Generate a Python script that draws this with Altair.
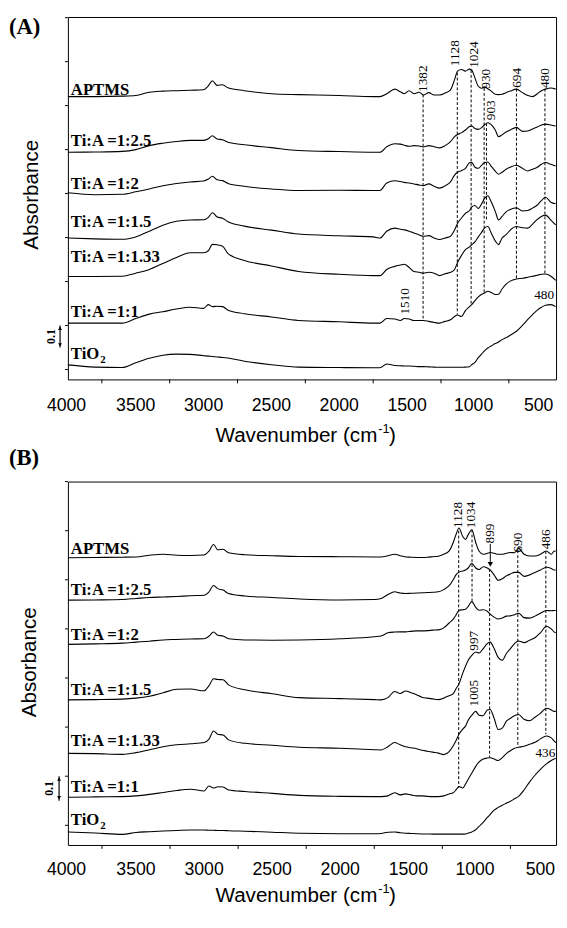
import altair as alt
import pandas as pd

# ---------------- data ----------------
SERIES = ["APTMS", "Ti:A =1:2.5", "Ti:A =1:2", "Ti:A =1:1.5", "Ti:A =1:1.33", "Ti:A =1:1", "TiO2"]
LABELS = ["APTMS", "Ti:A =1:2.5", "Ti:A =1:2", "Ti:A =1:1.5", "Ti:A =1:1.33", "Ti:A =1:1", "TiO"]

WN_A = [4000, 3800, 3600, 3500, 3400, 3300, 3200, 3100, 3000, 2965,
        2935, 2900, 2860, 2820, 2700, 2500, 2300, 2000, 1750, 1700,
        1650, 1590, 1550, 1520, 1485, 1450, 1410, 1380, 1340, 1300,
        1260, 1220, 1180, 1150, 1128, 1100, 1070, 1040, 1024, 1000,
        975, 950, 930, 905, 880, 850, 826, 800, 770, 740,
        694, 650, 610, 575, 540, 510, 480, 440, 405]

APTMS_A = [1.241, 1.241, 1.243, 1.246, 1.261, 1.266, 1.268, 1.270, 1.272, 1.290,
           1.313, 1.292, 1.295, 1.281, 1.268, 1.254, 1.250, 1.246, 1.241, 1.241,
           1.254, 1.275, 1.263, 1.254, 1.268, 1.254, 1.261, 1.248, 1.259, 1.248,
           1.248, 1.257, 1.272, 1.318, 1.357, 1.364, 1.357, 1.366, 1.362, 1.326,
           1.288, 1.279, 1.286, 1.277, 1.266, 1.252, 1.250, 1.252, 1.259, 1.266,
           1.275, 1.259, 1.246, 1.241, 1.254, 1.268, 1.275, 1.280, 1.275]
TI25_A = [0.988, 0.989, 0.992, 1.000, 1.018, 1.029, 1.037, 1.042, 1.042, 1.049,
          1.063, 1.048, 1.045, 1.033, 1.022, 1.009, 0.996, 0.991, 0.988, 0.988,
          1.013, 1.027, 1.025, 1.020, 1.015, 1.018, 1.016, 1.012, 1.018, 1.013,
          1.008, 1.018, 1.036, 1.059, 1.069, 1.076, 1.089, 1.105, 1.107, 1.096,
          1.092, 1.100, 1.112, 1.122, 1.114, 1.089, 1.059, 1.067, 1.080, 1.089,
          1.101, 1.083, 1.085, 1.094, 1.103, 1.112, 1.116, 1.112, 1.107]
TI2_A = [0.804, 0.795, 0.797, 0.808, 0.821, 0.836, 0.846, 0.853, 0.857, 0.866,
         0.879, 0.863, 0.859, 0.846, 0.833, 0.821, 0.814, 0.815, 0.814, 0.814,
         0.848, 0.858, 0.855, 0.851, 0.848, 0.844, 0.839, 0.836, 0.844, 0.833,
         0.825, 0.835, 0.853, 0.884, 0.897, 0.904, 0.915, 0.940, 0.942, 0.920,
         0.915, 0.929, 0.940, 0.944, 0.924, 0.902, 0.888, 0.897, 0.911, 0.920,
         0.929, 0.915, 0.903, 0.911, 0.920, 0.933, 0.941, 0.933, 0.925]
TI15_A = [0.598, 0.594, 0.592, 0.603, 0.629, 0.656, 0.674, 0.680, 0.681, 0.692,
          0.713, 0.694, 0.688, 0.672, 0.652, 0.634, 0.616, 0.608, 0.603, 0.598,
          0.629, 0.643, 0.638, 0.635, 0.629, 0.621, 0.612, 0.606, 0.609, 0.598,
          0.591, 0.598, 0.606, 0.634, 0.665, 0.688, 0.710, 0.723, 0.739, 0.746,
          0.732, 0.754, 0.777, 0.790, 0.763, 0.719, 0.680, 0.696, 0.717, 0.728,
          0.735, 0.721, 0.723, 0.734, 0.748, 0.768, 0.783, 0.761, 0.754]
TI133_A = [0.423, 0.423, 0.424, 0.438, 0.455, 0.482, 0.509, 0.531, 0.531, 0.540,
           0.569, 0.567, 0.561, 0.527, 0.496, 0.471, 0.446, 0.433, 0.427, 0.427,
           0.455, 0.469, 0.475, 0.479, 0.464, 0.446, 0.442, 0.438, 0.442, 0.438,
           0.427, 0.435, 0.442, 0.455, 0.487, 0.518, 0.545, 0.558, 0.567, 0.580,
           0.603, 0.625, 0.643, 0.650, 0.621, 0.585, 0.568, 0.598, 0.613, 0.634,
           0.650, 0.645, 0.643, 0.661, 0.683, 0.696, 0.702, 0.679, 0.658]
TI1_A = [0.211, 0.211, 0.211, 0.232, 0.252, 0.263, 0.275, 0.283, 0.278, 0.295,
         0.286, 0.288, 0.286, 0.270, 0.254, 0.239, 0.223, 0.217, 0.211, 0.211,
         0.232, 0.230, 0.223, 0.232, 0.230, 0.223, 0.223, 0.223, 0.219, 0.214,
         0.211, 0.219, 0.226, 0.241, 0.248, 0.241, 0.268, 0.286, 0.295, 0.313,
         0.330, 0.342, 0.348, 0.356, 0.350, 0.341, 0.342, 0.366, 0.388, 0.402,
         0.412, 0.415, 0.420, 0.424, 0.429, 0.433, 0.434, 0.424, 0.405]
TIO2_A = [0.021, 0.011, 0.009, 0.031, 0.051, 0.065, 0.070, 0.069, 0.063, 0.061,
          0.059, 0.057, 0.055, 0.052, 0.038, 0.022, 0.011, 0.009, 0.008, 0.008,
          0.025, 0.018, 0.017, 0.016, 0.016, 0.015, 0.013, 0.013, 0.012, 0.011,
          0.010, 0.010, 0.010, 0.010, 0.010, 0.010, 0.011, 0.013, 0.022, 0.033,
          0.054, 0.071, 0.085, 0.098, 0.107, 0.118, 0.125, 0.136, 0.145, 0.156,
          0.174, 0.201, 0.228, 0.250, 0.270, 0.283, 0.292, 0.295, 0.286]

WN_B = [4000, 3800, 3600, 3500, 3400, 3300, 3200, 3100, 3000, 2965,
        2930, 2900, 2860, 2820, 2700, 2500, 2300, 2000, 1750, 1700,
        1650, 1600, 1560, 1520, 1480, 1440, 1400, 1360, 1320, 1280,
        1240, 1200, 1170, 1150, 1128, 1100, 1080, 1060, 1034, 1005,
        980, 950, 920, 899, 870, 840, 810, 780, 750, 720,
        690, 650, 610, 570, 530, 486, 450, 430, 417]

APTMS_B = [1.090, 1.091, 1.092, 1.093, 1.100, 1.104, 1.100, 1.099, 1.101, 1.116,
           1.144, 1.122, 1.124, 1.110, 1.102, 1.098, 1.095, 1.094, 1.093, 1.093,
           1.098, 1.104, 1.098, 1.093, 1.092, 1.091, 1.091, 1.092, 1.094, 1.096,
           1.104, 1.118, 1.152, 1.184, 1.211, 1.176, 1.164, 1.184, 1.204, 1.152,
           1.116, 1.104, 1.108, 1.111, 1.108, 1.104, 1.104, 1.108, 1.111, 1.110,
           1.128, 1.104, 1.097, 1.097, 1.104, 1.117, 1.104, 1.116, 1.117]
TI25_B = [0.917, 0.918, 0.920, 0.924, 0.928, 0.930, 0.932, 0.935, 0.937, 0.950,
          0.977, 0.964, 0.958, 0.944, 0.934, 0.928, 0.922, 0.918, 0.920, 0.924,
          0.940, 0.951, 0.946, 0.944, 0.945, 0.946, 0.947, 0.948, 0.949, 0.951,
          0.960, 0.976, 1.000, 1.020, 1.031, 1.036, 1.040, 1.048, 1.067, 1.048,
          1.042, 1.053, 1.048, 1.040, 1.020, 0.998, 1.004, 1.016, 1.024, 1.030,
          1.030, 1.014, 1.020, 1.030, 1.040, 1.051, 1.046, 1.040, 1.040]
TI2_B = [0.737, 0.739, 0.742, 0.746, 0.750, 0.755, 0.757, 0.759, 0.760, 0.770,
         0.787, 0.774, 0.771, 0.760, 0.755, 0.754, 0.755, 0.760, 0.768, 0.771,
         0.784, 0.787, 0.788, 0.788, 0.790, 0.792, 0.792, 0.793, 0.795, 0.796,
         0.804, 0.824, 0.840, 0.856, 0.876, 0.878, 0.880, 0.892, 0.911, 0.888,
         0.876, 0.878, 0.872, 0.860, 0.848, 0.840, 0.844, 0.852, 0.853, 0.858,
         0.864, 0.846, 0.844, 0.852, 0.864, 0.875, 0.874, 0.875, 0.875]
TI15_B = [0.511, 0.512, 0.514, 0.518, 0.526, 0.540, 0.554, 0.555, 0.548, 0.568,
          0.597, 0.594, 0.593, 0.572, 0.552, 0.536, 0.520, 0.516, 0.512, 0.511,
          0.520, 0.545, 0.537, 0.547, 0.540, 0.532, 0.522, 0.518, 0.515, 0.512,
          0.518, 0.528, 0.536, 0.556, 0.576, 0.620, 0.648, 0.672, 0.692, 0.706,
          0.702, 0.720, 0.740, 0.746, 0.720, 0.684, 0.672, 0.700, 0.720, 0.740,
          0.751, 0.744, 0.754, 0.764, 0.784, 0.811, 0.800, 0.788, 0.784]
TI133_B = [0.293, 0.292, 0.289, 0.296, 0.308, 0.320, 0.328, 0.332, 0.337, 0.350,
           0.384, 0.371, 0.368, 0.348, 0.334, 0.326, 0.318, 0.314, 0.308, 0.307,
           0.320, 0.337, 0.328, 0.320, 0.316, 0.312, 0.306, 0.302, 0.298, 0.294,
           0.288, 0.300, 0.324, 0.344, 0.371, 0.392, 0.404, 0.428, 0.448, 0.464,
           0.448, 0.446, 0.470, 0.472, 0.436, 0.390, 0.396, 0.424, 0.436, 0.446,
           0.451, 0.432, 0.426, 0.440, 0.456, 0.477, 0.470, 0.464, 0.464]
TI1_B = [0.114, 0.116, 0.117, 0.120, 0.126, 0.134, 0.142, 0.147, 0.140, 0.160,
         0.152, 0.157, 0.156, 0.144, 0.138, 0.130, 0.122, 0.118, 0.117, 0.117,
         0.120, 0.133, 0.124, 0.128, 0.124, 0.120, 0.120, 0.118, 0.117, 0.117,
         0.120, 0.128, 0.133, 0.144, 0.158, 0.152, 0.168, 0.188, 0.212, 0.240,
         0.258, 0.270, 0.274, 0.275, 0.270, 0.264, 0.276, 0.292, 0.304, 0.314,
         0.318, 0.322, 0.330, 0.338, 0.352, 0.364, 0.356, 0.344, 0.337]
TIO2_B = [-0.027, -0.031, -0.037, -0.029, -0.026, -0.023, -0.021, -0.019, -0.019, -0.020,
          -0.020, -0.021, -0.021, -0.022, -0.024, -0.028, -0.032, -0.034, -0.034, -0.033,
          -0.028, -0.027, -0.030, -0.032, -0.033, -0.034, -0.035, -0.035, -0.036, -0.036,
          -0.036, -0.036, -0.036, -0.036, -0.036, -0.036, -0.035, -0.032, -0.027, -0.018,
          -0.004, 0.012, 0.032, 0.044, 0.062, 0.073, 0.082, 0.090, 0.098, 0.108,
          0.118, 0.144, 0.176, 0.204, 0.228, 0.250, 0.264, 0.270, 0.272]

LABEL_Y_A = [1.250, 1.015, 0.821, 0.647, 0.487, 0.238, 0.048]
LABEL_Y_B = [1.104, 0.937, 0.755, 0.531, 0.324, 0.137, 0.000]

DASH_WN_A = [1382, 1130, 1028, 932, 915, 694, 484]
DASH_TOP_A = [1.250, 1.350, 1.362, 1.280, 1.120, 1.277, 1.277]
DASH_BOT_A = [0.222, 0.250, 0.300, 0.348, 0.680, 0.410, 0.437]
NOTE_A = ["1382", "1128", "1024", "930", "903", "694", "480", "1510"]
NOTE_WN_A = [1380, 1143, 1007, 920, 884, 692, 486, 1514]
NOTE_Y_A = [1.262, 1.379, 1.372, 1.277, 1.134, 1.281, 1.280, 0.250]
FLAT_A = ["480"]
FLAT_WN_A = [490]
FLAT_Y_A = [0.339]

DASH_WN_B = [1130, 1032, 903, 696, 490]
DASH_TOP_B = [1.200, 1.204, 1.044, 1.120, 1.117]
DASH_BOT_B = [0.152, 0.912, 0.277, 0.324, 0.371]
NOTE_B = ["1128", "1034", "899", "690", "486", "997", "1005"]
NOTE_WN_B = [1135, 1039, 896, 696, 488, 1016, 1020]
NOTE_Y_B = [1.211, 1.210, 1.148, 1.111, 1.124, 0.711, 0.484]
FLAT_B = ["436"]
FLAT_WN_B = [493]
FLAT_Y_B = [0.296]

X_TICKS = [4000, 3500, 3000, 2500, 2000, 1500, 1000, 500]
X_TICK_TEXT = ["4000", "3500", "3000", "2500", "2000", "1500", "1000", "500"]
X_TICK_TEXT_AT = [4010, 3500, 3000, 2500, 2000, 1500, 1010, 530]
X_MINOR = [3750, 3250, 2750, 2250, 1750, 1250, 750]
Y_MAJOR_A = [0.1, 0.3, 0.5, 0.7, 0.9, 1.1, 1.3, 1.5]
Y_MINOR_A = [0.0, 0.2, 0.4, 0.6, 0.8, 1.0, 1.2, 1.4, 1.6]
Y_MAJOR_B = [0.1, 0.3, 0.5, 0.7, 0.9, 1.1, 1.3]
Y_MINOR_B = [0.0, 0.2, 0.4, 0.6, 0.8, 1.0, 1.2, 1.4]
SCALE_BAR = [0.1, 0.2]

SANS = "Liberation Sans"
SERIF = "Liberation Serif"
W = 497


def text_px(t, x, y, font, size, weight="normal", align="left", baseline="alphabetic", angle=0):
    return alt.Chart(pd.DataFrame({"t": [t]})).mark_text(
        font=font, fontSize=size, fontWeight=weight, align=align,
        baseline=baseline, angle=angle, color="black"
    ).encode(x=alt.value(x), y=alt.value(y), text="t:N")


def panel(wn, curves, x_dom, y_dom, h, y_major, y_minor, dash, notes, flat,
          label_y, bar_x, bar_tx, ytitle_x, ytitle_y, tick_lab_dy, title_dy, extra):
    xs = alt.Scale(domain=x_dom, reverse=True, nice=False, zero=False)
    ys = alt.Scale(domain=y_dom, nice=False, zero=False)

    def X(f="wn", axis=None):
        return alt.X(f"{f}:Q", scale=xs, axis=axis)

    def Y(f="v", axis=None):
        return alt.Y(f"{f}:Q", scale=ys, axis=axis)

    rows = []
    for name, vals in zip(SERIES, curves):
        for w_, v_ in zip(wn, vals):
            rows.append({"series": name, "wn": w_, "v": v_})
    df = pd.DataFrame(rows)

    xaxis = alt.Axis(values=X_TICKS, tickSize=8, tickColor="black", tickWidth=1,
                     domainColor="black", domainWidth=1, labels=False,
                     grid=False, title="")
    yaxis = alt.Axis(values=y_major, tickSize=7, tickColor="black", tickWidth=1,
                     domainColor="black", domainWidth=1, labels=False,
                     grid=False, title="")

    layers = []
    layers.append(alt.Chart(df).mark_line(color="black", strokeWidth=1.1, interpolate="monotone")
                  .encode(x=X(axis=xaxis), y=Y(axis=yaxis), detail="series:N"))
    layers.append(alt.Chart(pd.DataFrame({"v": y_minor})).mark_rule(color="black", strokeWidth=1)
                  .encode(x=alt.value(0), x2=alt.value(-3), y=Y()))
    layers.append(alt.Chart(pd.DataFrame({"wn": X_MINOR})).mark_rule(color="black", strokeWidth=1)
                  .encode(x=X(), y=alt.value(h), y2=alt.value(h + 4)))
    # tick labels
    layers.append(alt.Chart(pd.DataFrame({"wn": X_TICK_TEXT_AT, "t": X_TICK_TEXT}))
                  .mark_text(align="center", baseline="alphabetic", font=SANS, fontSize=18,
                             color="black")
                  .encode(x=X(), y=alt.value(h + tick_lab_dy), text="t:N"))
    dw, dt, db = dash
    layers.append(alt.Chart(pd.DataFrame({"wn": dw, "top": dt, "bot": db}))
                  .mark_rule(color="black", strokeWidth=1, strokeDash=[3, 2])
                  .encode(x=X(), y=Y("top"), y2="bot:Q"))
    nt, nw, nv = notes
    layers.append(alt.Chart(pd.DataFrame({"t": nt, "wn": nw, "v": nv}))
                  .mark_text(angle=270, align="left", baseline="middle", font=SERIF,
                             fontSize=13.5, color="black")
                  .encode(x=X(), y=Y(), text="t:N"))
    ft, fw, fv = flat
    layers.append(alt.Chart(pd.DataFrame({"t": ft, "wn": fw, "v": fv}))
                  .mark_text(align="center", baseline="middle", font=SERIF,
                             fontSize=13.5, color="black")
                  .encode(x=X(), y=Y(), text="t:N"))
    layers.append(alt.Chart(pd.DataFrame({"t": LABELS, "v": label_y}))
                  .mark_text(align="left", baseline="alphabetic", font=SERIF, fontSize=17,
                             fontWeight="bold", color="black")
                  .encode(x=alt.value(3), y=Y(), text="t:N"))
    layers.append(alt.Chart(pd.DataFrame({"t": ["2"], "v": [label_y[-1]]}))
                  .mark_text(align="left", baseline="alphabetic", font=SERIF, fontSize=11,
                             fontWeight="bold", color="black", dy=4)
                  .encode(x=alt.value(33), y=Y(), text="t:N"))
    # 0.1 scale bar
    layers.append(alt.Chart(pd.DataFrame({"v": [SCALE_BAR[0]], "v2": [SCALE_BAR[1]]}))
                  .mark_rule(color="black", strokeWidth=1.2)
                  .encode(x=alt.value(bar_x), y=Y(), y2="v2:Q"))
    layers.append(alt.Chart(pd.DataFrame({"v": [SCALE_BAR[1] - 0.012, SCALE_BAR[0] + 0.012],
                                          "shape": ["triangle-up", "triangle-down"]}))
                  .mark_point(filled=True, color="black", size=16, opacity=1)
                  .encode(x=alt.value(bar_x), y=Y(), shape=alt.Shape("shape:N", scale=None)))
    layers.append(alt.Chart(pd.DataFrame({"t": ["0.1"], "v": [sum(SCALE_BAR) / 2]}))
                  .mark_text(angle=270, align="center", baseline="middle", font=SERIF,
                             fontSize=12, fontWeight="bold", color="black")
                  .encode(x=alt.value(bar_tx), y=Y(), text="t:N"))
    # axis titles
    layers.append(text_px("Absorbance", ytitle_x, ytitle_y, SANS, 21, align="center",
                          baseline="middle", angle=270))
    layers.append(text_px("Wavenumber (cm", 315, h + title_dy, SANS, 21, align="right"))
    layers.append(text_px("-1", 316, h + title_dy - 9, SANS, 13))
    layers.append(text_px(")", 327, h + title_dy, SANS, 21))
    for e in extra:
        layers.append(e(X, Y))
    return alt.layer(*layers).properties(width=W, height=h)


def extras_a(X, Y):
    return alt.layer(
        text_px("(A)", -60, 17, SERIF, 23, weight="bold"),
        text_px("(B)", -60, 456, SERIF, 23, weight="bold"),
    )


def arrow_b(X, Y):
    shaft = alt.Chart(pd.DataFrame({"wn": [898], "v": [1.146], "v2": [1.07]})).mark_rule(
        color="black", strokeWidth=1).encode(x=X(), y=Y(), y2="v2:Q")
    head = alt.Chart(pd.DataFrame({"wn": [898], "v": [1.063]})).mark_point(
        shape="triangle-down", filled=True, color="black", size=30, opacity=1).encode(x=X(), y=Y())
    return alt.layer(shaft, head)


panel_a = panel(WN_A, [APTMS_A, TI25_A, TI2_A, TI15_A, TI133_A, TI1_A, TIO2_A],
                [402, 4000], [-0.045, 1.603], 369, Y_MAJOR_A, Y_MINOR_A,
                (DASH_WN_A, DASH_TOP_A, DASH_BOT_A), (NOTE_A, NOTE_WN_A, NOTE_Y_A),
                (FLAT_A, FLAT_WN_A, FLAT_Y_A), LABEL_Y_A, -8, -17, -36, 181, 32, 64, [extras_a])

panel_b = panel(WN_B, [APTMS_B, TI25_B, TI2_B, TI15_B, TI133_B, TI1_B, TIO2_B],
                [415, 4000], [-0.08, 1.40], 370, Y_MAJOR_B, Y_MINOR_B,
                (DASH_WN_B, DASH_TOP_B, DASH_BOT_B), (NOTE_B, NOTE_WN_B, NOTE_Y_B),
                (FLAT_B, FLAT_WN_B, FLAT_Y_B), LABEL_Y_B, -9, -19, -39, 184, 31, 58, [arrow_b])

chart = alt.vconcat(panel_a, panel_b, spacing=10).properties(
    padding={"left": 0, "top": -1, "right": 0, "bottom": -8}
).configure_view(stroke="black", strokeWidth=1)

chart.save("out.html", embed_options={"renderer": "svg", "actions": False})
